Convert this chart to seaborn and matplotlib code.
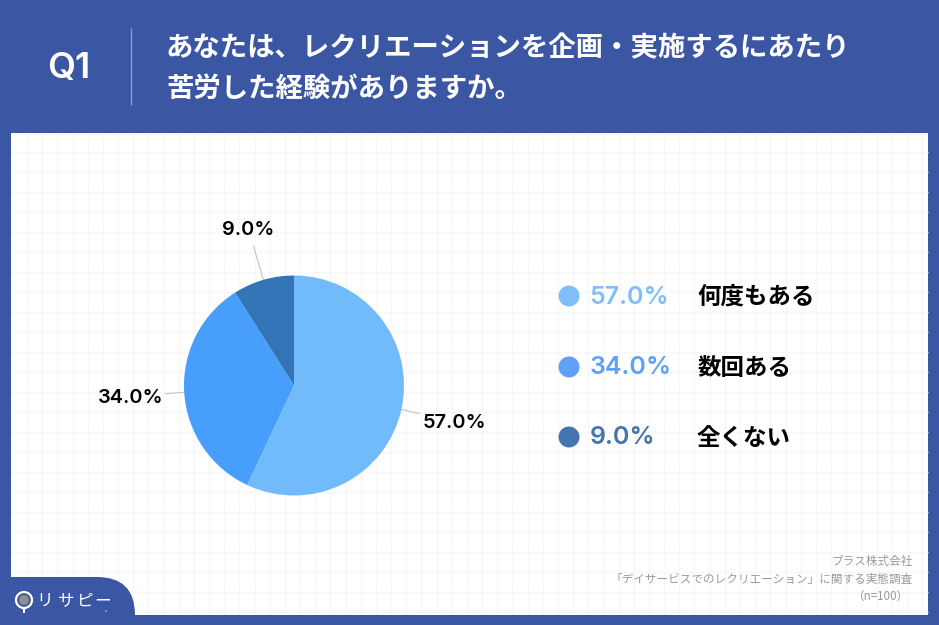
#!/usr/bin/env python3
import numpy as np
import pandas as pd
import matplotlib
matplotlib.use('Agg')
import matplotlib.pyplot as plt
from matplotlib.patches import Rectangle, FancyBboxPatch, Circle
import seaborn as sns

sns.set_theme(style='white')
JP = ['Noto Sans CJK JP', 'DejaVu Sans']
NUM = ['Inter', 'Noto Sans CJK JP']
plt.rcParams['font.family'] = JP

categories = ['何度もある', '数回ある', '全くない']
shares = [57.0, 34.0, 9.0]
slice_colors = ['#72BBFA', '#479EFB', '#3274B5']
legend_colors = ['#7FBEF9', '#5FA2F5', '#4475AE']
question = 'Q1'
title_lines = ['あなたは、レクリエーションを企画・実施するにあたり', '苦労した経験がありますか。']
source_lines = ['プラス株式会社', '「デイサービスでのレクリエーション」に関する実態調査', '（n=100）']
logo_chars = ['リ', 'サ', 'ピ', 'ー']

BG = '#3B57A3'
W, H = 939, 625

fig = plt.figure(figsize=(W / 100, H / 100), dpi=100, facecolor=BG)

# page layer in pixel coordinates, y going down
page = fig.add_axes([0, 0, 1, 1])
page.set_xlim(0, W)
page.set_ylim(H, 0)
page.axis('off')

page.add_patch(Rectangle((11, 133), 917, 482, fc='white', ec='none', zorder=1))
grid_x = np.arange(27, 928, 15.17)
grid_y = np.arange(152, 615, 20)
page.vlines(grid_x, 133, 615, color='#F6F7F8', lw=1, zorder=2)
page.hlines(grid_y, 11, 928, color='#F6F7F8', lw=1, zorder=2)

# header
page.text(69, 69, question, color='white', fontsize=26, fontweight='semibold',
          family=NUM, ha='center', va='center', zorder=5)
page.vlines(131, 28, 105, color='#8C9CC8', lw=1, zorder=5)
for line, y in zip(title_lines, [48, 89]):
    page.text(166, y, line, color='white', fontsize=19.75, fontweight='bold',
              ha='left', va='center', zorder=5)

# logo tab
tab = FancyBboxPatch((-60, 577), 195, 80, boxstyle='round,pad=0,rounding_size=38',
                     fc=BG, ec='none', zorder=3)
page.add_patch(tab)
page.add_patch(Rectangle((0, 615), 939, 10, fc=BG, ec='none', zorder=3))
page.add_patch(Circle((24, 600), 8, fc='none', ec='white', lw=1.6, zorder=5))
page.add_patch(Circle((24, 600), 5, fc='#8E8E8E', ec='none', zorder=5))
page.vlines(24, 608, 613, color='white', lw=1.6, zorder=5)
for ch, x in zip(logo_chars, [45, 66, 85, 103]):
    page.text(x, 601, ch, color='white', fontsize=12, ha='center', va='center', zorder=5)
page.add_patch(Circle((106, 611), 1, fc='#8E9FD0', ec='none', zorder=5))

# pie, radius 110 px around (294, 385)
cx, cy, r = 294, 385.5, 110
ax = fig.add_axes([(cx - r) / W, 1 - (cy + r) / H, 2 * r / W, 2 * r / H])
ax.set_zorder(4)
wedges, _ = ax.pie(shares, colors=slice_colors, startangle=90, counterclock=False,
                   radius=1, wedgeprops={'linewidth': 0})
ax.set_xlim(-1, 1)
ax.set_ylim(-1, 1)

line_ends = [1.17, 1.17, 1.32]
for w, value, end in zip(wedges, shares, line_ends):
    ang = np.deg2rad((w.theta1 + w.theta2) / 2)
    ux, uy = np.cos(ang), -np.sin(ang)
    page.plot([cx + r * ux, cx + r * end * ux], [cy + r * uy, cy + r * end * uy],
              color='#C4C4C4', lw=0.8, zorder=3)
    page.text(cx + 164 * ux, cy + 164 * uy + 2, f'{value:.1f}%', color='black', fontsize=14.4,
              fontweight='semibold', family=NUM, ha='center', va='center', zorder=5)

# legend rows
rows = pd.DataFrame({'category': categories, 'share': shares,
                     'y': [296, 367, 437], 'x': 569})
sns.scatterplot(data=rows, x='x', y='y', hue='category', palette=legend_colors,
                s=228, linewidth=0, legend=False, ax=page, zorder=5)
page.set_xlim(0, W)
page.set_ylim(H, 0)
page.axis('off')
for row, color in zip(rows.itertuples(), legend_colors):
    page.text(589.5, row.y + 1, f'{row.share:.1f}%', color=color, fontsize=18, fontweight='semibold',
              family=NUM, ha='left', va='center', zorder=5)
    page.text(697, row.y + 1, row.category, color='black', fontsize=16.9, fontweight='bold',
              ha='left', va='center', zorder=5)

# source note
for line, y, x in zip(source_lines, [561, 579, 597], [913, 913, 909]):
    page.text(x, y, line, color='#9A9A9A', fontsize=8.35, ha='right', va='center', zorder=5)

fig.savefig('out.png', dpi=100, facecolor=BG)
